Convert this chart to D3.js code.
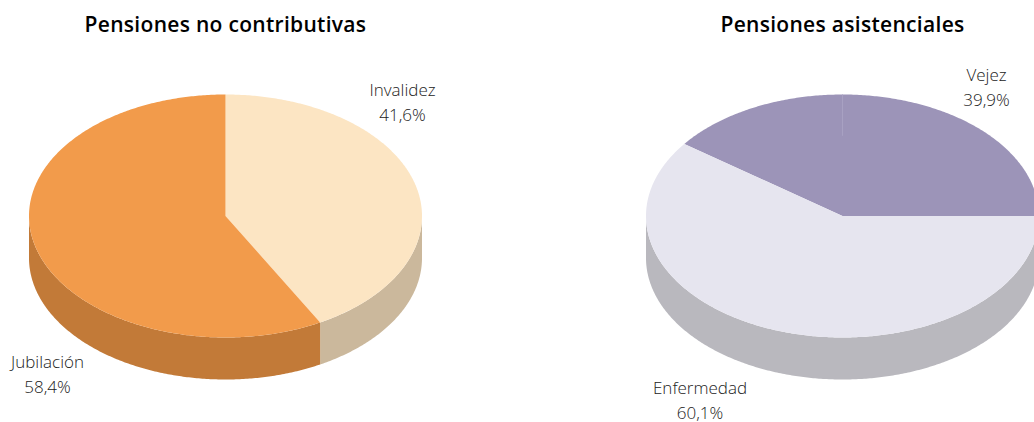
<!DOCTYPE html>
<html>
<head>
<meta charset="utf-8">
<script src="https://cdnjs.cloudflare.com/ajax/libs/d3/7.8.5/d3.min.js"></script>
<style>
html, body { margin: 0; padding: 0; background: #fff; overflow: hidden; }
svg { display: block; }
.title { font-family: "Open Sans", sans-serif; font-weight: 600; font-size: 21px; letter-spacing: 0.3px; fill: #000; text-anchor: middle; }
.label { font-family: "Open Sans", sans-serif; font-weight: 300; font-size: 17px; fill: #222; text-anchor: middle; }
</style>
</head>
<body>
<div id="chart"></div>
<script>
var leftTitle = "Pensiones no contributivas",
    rightTitle = "Pensiones asistenciales";

// slices as drawn in the picture, read clockwise from the start angle
var leftCategories = ["Invalidez", "Jubilación"],
    leftShares = [42, 58],
    leftLabels = ["41,6%", "58,4%"];

var rightCategories = ["Vejez", "Enfermedad"],
    rightShares = [39.9, 60.1],
    rightLabels = ["39,9%", "60,1%"];

var leftTop = ["#fce5c3", "#f29b4b"],
    leftWall = ["#cbb89c", "#c27a38"],
    rightTop = ["#9c94b8", "#e6e5ef"],
    rightWall = ["#b9b8be", "#b9b8be"];

(function() {
    var width = 1034,
        height = 422;

    var svg = d3.select("#chart")
        .append("svg")
        .attr("width", width)
        .attr("height", height);

    drawPie({
        cx: 225.5, title: leftTitle, startDeg: 0,
        shares: leftShares, top: leftTop, wall: leftWall
    });
    var right = drawPie({
        cx: 842.5, title: rightTitle, startDeg: -53.6,
        shares: rightShares, top: rightTop, wall: rightWall
    });

    // faint seam left in the purple slice of the original
    right.g.append("line")
        .attr("x1", right.x(0)).attr("x2", right.x(0))
        .attr("y1", right.y(-1)).attr("y2", right.y(-0.66))
        .attr("stroke", "#a8a1c2")
        .attr("stroke-width", 1);

    addLabel(402.5, 96, leftCategories[0], leftLabels[0]);
    addLabel(47.5, 368, leftCategories[1], leftLabels[1]);
    addLabel(986.5, 81, rightCategories[0], rightLabels[0]);
    addLabel(700, 394, rightCategories[1], rightLabels[1]);

    function drawPie(o) {
        var rx = 196.5,
            ry = 121.5,
            depth = 42,
            cy = 216;

        var x = d3.scaleLinear().domain([-1, 1]).range([o.cx - rx, o.cx + rx]),
            y = d3.scaleLinear().domain([-1, 1]).range([cy - ry, cy + ry]);

        var start = o.startDeg * Math.PI / 180;
        var arcs = d3.pie().sort(null).startAngle(start).endAngle(start + 2 * Math.PI)(o.shares);

        var g = svg.append("g");

        g.append("text")
            .attr("class", "title")
            .attr("x", o.cx)
            .attr("y", 32)
            .text(o.title);

        var line = d3.line()
            .x(function(p) { return x(Math.sin(p[0])); })
            .y(function(p) { return y(-Math.cos(p[0])) + p[1]; });

        // side walls: only the part of each slice facing the front
        arcs.forEach(function(a, i) {
            var wallPoints = outerRange(a.startAngle, a.endAngle);
            if (!wallPoints.length) return;
            var pts = wallPoints.map(function(t) { return [t, 0]; })
                .concat(wallPoints.slice().reverse().map(function(t) { return [t, depth]; }));
            g.append("path")
                .attr("d", line(pts) + "Z")
                .attr("fill", o.wall[i]);
        });

        // top face
        arcs.forEach(function(a, i) {
            var pts = d3.range(a.startAngle, a.endAngle, 0.01).concat([a.endAngle])
                .map(function(t) { return [x(Math.sin(t)), y(-Math.cos(t))]; });
            g.append("path")
                .attr("d", "M" + x(0) + "," + y(0) + "L" + pts.join("L") + "Z")
                .attr("fill", o.top[i]);
        });

        return { g: g, x: x, y: y };
    }

    // front half of the rim is 90deg to 270deg
    function outerRange(a0, a1) {
        var lo = Math.PI / 2, hi = 3 * Math.PI / 2;
        var s = Math.max(a0, lo), e = Math.min(a1, hi);
        if (e <= s) return [];
        return d3.range(s, e, 0.01).concat([e]);
    }

    function addLabel(x, y, name, value) {
        svg.append("text").attr("class", "label").attr("x", x).attr("y", y).text(name);
        svg.append("text").attr("class", "label").attr("x", x).attr("y", y + 24.5).text(value);
    }
})();
</script>
</body>
</html>
